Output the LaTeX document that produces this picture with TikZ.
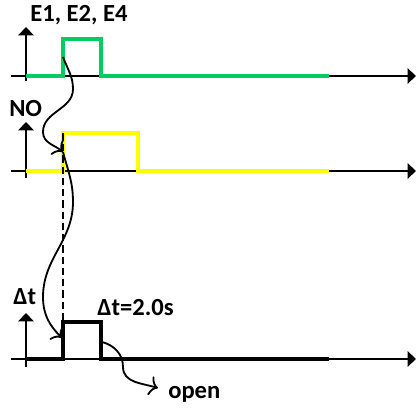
\documentclass[tikz,border=0pt]{standalone}
\usepackage[svgnames]{xcolor}
\usepackage{fontspec}
\setmainfont{Carlito}
\usetikzlibrary{arrows.meta}
\definecolor{sigGreen}{RGB}{0,204,102}
\definecolor{sigYellow}{RGB}{255,255,0}
\tikzset{
  axis/.style={line width=1.3pt, -{Triangle[length=6pt,width=11pt]}},
  signal/.style={line width=2.8pt, line join=miter},
  wave/.style={line width=1.3pt, -{To[length=6pt,width=14pt]}},
  lbl/.style={font=\bfseries\fontsize{17.5}{20}\selectfont, inner sep=0pt},
}
\begin{document}
\begin{tikzpicture}[x=0.025cm, y=0.025cm]
\useasboundingbox (0,0) rectangle (420,407);

%%入力信号 E1, E2, E4
\draw [axis] (11,331) -- (416,331);
\draw [axis] (26,326) -- (26,380);
   %時間軸と縦軸
\draw [signal, sigGreen] (26,331) -- (63,331) -- (63,368) -- (101,368) -- (101,331) -- (329,331);
   %緑のパルス
\node [lbl, anchor=base west] (lblE) at (30,385) {E1, E2, E4};
\coordinate (gUp) at (63,350);

%%NO 接点
\draw [axis] (11,236) -- (416,236);
\draw [axis] (26,229) -- (26,285);
\draw [signal, sigYellow] (26,236) -- (63,236) -- (63,274) -- (138,274) -- (138,236) -- (329,236);
   %黄色のパルス
\node [lbl, anchor=base west] (lblNO) at (9,290) {NO};
\coordinate (yUp) at (63,255);
\coordinate (yTop) at (63,274);

%%遅延 Δt
\draw [axis] (11,48) -- (416,48);
\draw [axis] (26,40) -- (26,94);
\draw [signal, black] (26,48) -- (63,48) -- (63,85) -- (101,85) -- (101,48) -- (329,48);
   %黒のパルス
\node [lbl, anchor=base west] (lblDt) at (13,102) {Δt};
\node [lbl, anchor=base west] (lblDtVal) at (97,91) {Δt=2.0s};
\node [lbl, anchor=base west] (lblOpen) at (168,9) {open};
\coordinate (bUp) at (62,69);
\coordinate (bTop) at (63,85);
\coordinate (bDown) at (102,65);
\coordinate (oTip) at (158,19);

%%破線と曲線の矢印
\draw [dashed, line width=1.3pt, dash pattern=on 5pt off 3pt] (yTop) -- (bTop);
   %立ち上がりをそろえる破線
\draw [wave] (gUp) to [out=-70, in=90] (73,318) to [out=-90, in=90] (43,275) to [out=-90, in=140] (yUp);
\draw [wave] (yUp) to [out=-75, in=90] (73,205) to [out=-90, in=90] (43,110) to [out=-90, in=135] (bUp);
\draw [wave] (bDown) to [out=-15, in=90] (123,40) to [out=-90, in=163] (oTip);
   %S字の矢印
\end{tikzpicture}
\end{document}
